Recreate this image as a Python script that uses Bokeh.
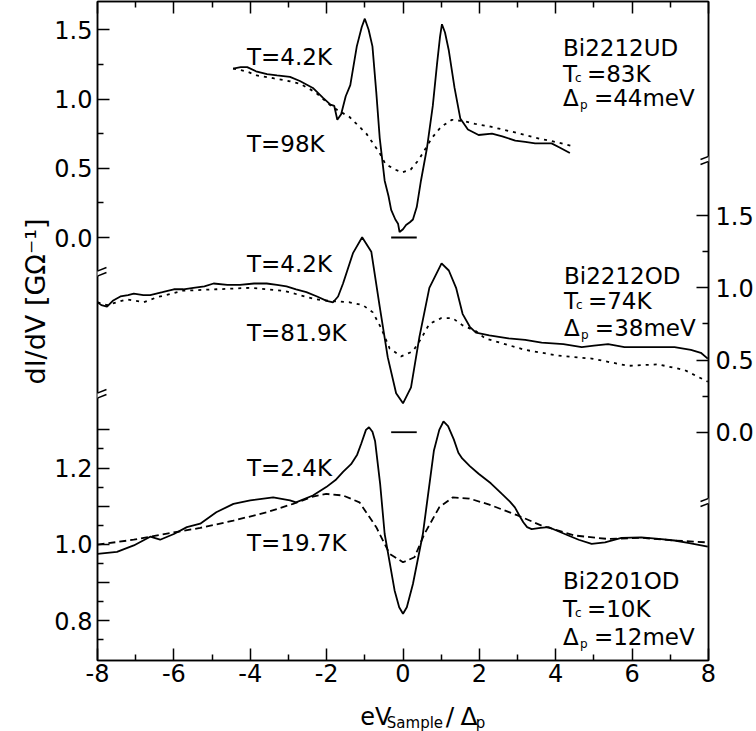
import math
from bokeh.plotting import figure
from bokeh.layouts import column
from bokeh.models import Range1d, LinearAxis, FixedTicker, Label, Arrow, Title
from bokeh.core.properties import value
from bokeh.embed import file_html
from bokeh.resources import INLINE

FONT = "DejaVu Sans"

# ---------------- data ----------------
# Panel value ranges (top panel = default range)
TOP_RANGE = (-3.054, 1.704)
MID_RANGE = (-1.581, 2.983)
BOT_RANGE = (0.6954, 2.423)

# Bi2212UD  T=4.2K (solid)
ud_sc_x = [-4.45, -4.25, -4.08, -3.85, -3.56, -3.3, -2.96, -2.7, -2.36, -2.1, -1.9, -1.8,
           -1.72, -1.62, -1.5, -1.38, -1.21, -1.08, -1.0, -0.9, -0.8, -0.7, -0.61, -0.48,
           -0.38, -0.31, -0.2, -0.13, -0.09, 0.0, 0.08, 0.18, 0.26, 0.36, 0.47, 0.63, 0.78,
           0.89, 0.97, 1.02, 1.1, 1.2, 1.35, 1.5, 1.7, 1.98, 2.33, 2.6, 2.94, 3.2, 3.46,
           3.89, 4.1, 4.37]
ud_sc_y = [1.22, 1.23, 1.23, 1.20, 1.18, 1.17, 1.16, 1.13, 1.08, 1.01, 0.96, 0.95,
           0.85, 0.89, 1.02, 1.10, 1.38, 1.52, 1.58, 1.50, 1.38, 1.05, 0.72, 0.41,
           0.30, 0.20, 0.13, 0.10, 0.04, 0.06, 0.09, 0.11, 0.13, 0.22, 0.41, 0.65, 0.95,
           1.25, 1.45, 1.54, 1.48, 1.35, 1.08, 0.86, 0.78, 0.74, 0.75, 0.73, 0.70, 0.69, 0.68,
           0.68, 0.65, 0.61]
# Bi2212UD  T=98K (dotted)
ud_nc_x = [-4.45, -4.1, -3.83, -3.4, -3.0, -2.7, -2.3, -1.84, -1.4, -0.96, -0.61, -0.46,
           -0.2, -0.02, 0.2, 0.41, 0.76, 1.0, 1.28, 1.6, 1.89, 2.3, 2.76, 3.2, 3.63, 4.0, 4.42]
ud_nc_y = [1.22, 1.20, 1.17, 1.15, 1.13, 1.11, 1.05, 0.94, 0.87, 0.75, 0.61, 0.53,
           0.49, 0.47, 0.49, 0.56, 0.72, 0.80, 0.85, 0.84, 0.82, 0.80, 0.77, 0.74, 0.71, 0.69, 0.66]

# Bi2212OD  T=4.2K (solid)
od_sc_x = [-8.0, -7.9, -7.75, -7.6, -7.4, -7.2, -7.05, -6.8, -6.62, -6.3, -6.0, -5.75, -5.49,
           -5.2, -4.96, -4.6, -4.27, -3.9, -3.57, -3.3, -3.05, -2.8, -2.53, -2.25, -2.0, -1.83,
           -1.7, -1.57, -1.31, -1.07, -0.83, -0.61, -0.40, -0.18, 0.0, 0.21, 0.43, 0.69, 1.01,
           1.2, 1.39, 1.56, 1.75, 1.91, 2.26, 2.76, 3.2, 3.63, 4.2, 4.68, 5.0, 5.37, 5.8, 6.24,
           6.7, 7.11, 7.54, 7.8, 7.98]
od_sc_y = [0.90, 0.88, 0.87, 0.91, 0.94, 0.95, 0.96, 0.95, 0.95, 0.97, 0.99, 0.99, 1.00,
           1.01, 1.03, 1.02, 1.02, 1.03, 1.03, 1.02, 1.01, 0.99, 0.97, 0.94, 0.91, 0.90,
           0.94, 1.03, 1.24, 1.35, 1.25, 0.87, 0.52, 0.27, 0.20, 0.31, 0.66, 1.00, 1.17,
           1.12, 1.00, 0.82, 0.73, 0.69, 0.67, 0.65, 0.64, 0.62, 0.61, 0.59, 0.60, 0.61, 0.59, 0.59,
           0.59, 0.59, 0.57, 0.55, 0.51]
# Bi2212OD  T=81.9K (dotted)
od_nc_x = [-8.0, -7.75, -7.23, -6.79, -6.44, -5.75, -4.88, -4.0, -3.14, -2.27, -1.92, -1.4,
           -1.05, -0.79, -0.57, -0.35, -0.05, 0.26, 0.48, 0.69, 1.0, 1.3, 1.56, 1.91, 2.15,
           3.2, 4.07, 4.94, 5.9, 6.68, 7.38, 7.98]
od_nc_y = [0.90, 0.88, 0.92, 0.90, 0.935, 0.98, 0.99, 1.00, 0.98, 0.92, 0.91, 0.90,
           0.88, 0.83, 0.72, 0.58, 0.525, 0.56, 0.65, 0.75, 0.79, 0.79, 0.74, 0.70, 0.65,
           0.57, 0.53, 0.51, 0.46, 0.47, 0.43, 0.35]

# Bi2201OD  T=2.4K (solid)
b1_sc_x = [-8.0, -7.49, -7.05, -6.62, -6.36, -6.0, -5.66, -5.31, -4.89, -4.44, -4.0, -3.4,
           -2.96, -2.8, -2.36, -2.01, -1.75, -1.57, -1.36, -1.2, -1.09, -0.97, -0.89, -0.8,
           -0.73, -0.6, -0.48, -0.22, -0.1, 0.0, 0.1, 0.26, 0.52, 0.81, 0.95, 1.06, 1.18,
           1.33, 1.45, 1.55, 1.75, 1.98, 2.3, 2.59, 2.8, 2.93, 3.05, 3.15, 3.25, 3.37, 3.6,
           3.81, 4.05, 4.33, 4.6, 4.94, 5.29, 5.72, 6.24, 6.7, 7.11, 7.5, 7.98]
b1_sc_y = [0.975, 0.98, 0.997, 1.02, 1.012, 1.027, 1.045, 1.054, 1.084, 1.106, 1.115, 1.123,
           1.115, 1.11, 1.128, 1.15, 1.17, 1.19, 1.21, 1.235, 1.265, 1.30, 1.307, 1.295,
           1.27, 1.16, 1.027, 0.879, 0.835, 0.818, 0.835, 0.896, 1.027, 1.246, 1.30, 1.322, 1.31,
           1.275, 1.24, 1.225, 1.205, 1.185, 1.16, 1.132, 1.112, 1.097, 1.075, 1.058, 1.045, 1.04, 1.043,
           1.045, 1.035, 1.023, 1.012, 1.001, 1.005, 1.017, 1.018, 1.014, 1.01, 1.003, 0.994]
# Bi2201OD  T=19.7K (dashed)
b1_nc_x = [-8.0, -7.05, -6.18, -5.31, -4.44, -3.57, -2.88, -2.36, -2.01, -1.57, -1.14,
           -0.70, -0.35, 0.0, 0.30, 0.56, 0.95, 1.30, 1.74, 2.26, 3.02, 3.63, 4.5, 5.37,
           6.24, 7.11, 7.98]
b1_nc_y = [0.999, 1.012, 1.028, 1.043, 1.062, 1.084, 1.106, 1.125, 1.132, 1.128, 1.11,
           1.045, 0.975, 0.953, 0.966, 1.027, 1.097, 1.123, 1.12, 1.104, 1.075, 1.049, 1.023,
           1.014, 1.017, 1.01, 1.005]

# zero-level markers
zero_mark_x = [-0.31, 0.36]

x_major = [-8, -6, -4, -2, 0, 2, 4, 6, 8]
x_minor = [-7, -5, -3, -1, 1, 3, 5, 7]
top_major = [0.0, 0.5, 1.0, 1.5]
top_minor = [0.25, 0.75, 1.25]
mid_major = [0.0, 0.5, 1.0, 1.5]
mid_minor = [0.25, 0.75, 1.25]
bot_major = [0.8, 0.9, 1.0, 1.1, 1.2, 1.3]
bot_labeled = [0.8, 1.0, 1.2]
bot_minor = [0.75, 0.85, 0.95, 1.05, 1.15, 1.25]

# ---------------- layout helpers ----------------
W, H = 756, 731
STRIP = 30                      # strip below the main figure holding the x title
MAIN_H = H - STRIP
FX0, FX1, FY0, FY1 = 97, 710, 1, 660


def dx(px):
    return -8 + (px - FX0) * 16.0 / (FX1 - FX0)


def dy(py):
    return TOP_RANGE[1] - (py - FY0) * (TOP_RANGE[1] - TOP_RANGE[0]) / (FY1 - FY0)


def bot_to_top(v):
    return TOP_RANGE[0] + (v - BOT_RANGE[0]) / (BOT_RANGE[1] - BOT_RANGE[0]) * (TOP_RANGE[1] - TOP_RANGE[0])


p = figure(width=W, height=MAIN_H, x_range=Range1d(-8, 8), y_range=Range1d(*TOP_RANGE),
           output_backend="svg", toolbar_location=None,
           min_border_left=FX0, min_border_right=W - FX1, min_border_top=FY0,
           min_border_bottom=MAIN_H - FY1)
p.extra_y_ranges = {"mid": Range1d(*MID_RANGE), "bot": Range1d(*BOT_RANGE)}
p.xgrid.visible = False
p.ygrid.visible = False
p.outline_line_color = "black"
p.outline_line_width = 1.5
p.background_fill_color = "white"
p.border_fill_color = "white"

TICK_FS = "24px"


def style_axis(ax, size=TICK_FS):
    ax.axis_line_width = 1.5
    ax.axis_line_color = "black"
    ax.major_tick_in = 12
    ax.major_tick_out = 0
    ax.minor_tick_in = 6
    ax.minor_tick_out = 0
    ax.major_tick_line_width = 1.5
    ax.minor_tick_line_width = 1.5
    ax.major_tick_line_color = "black"
    ax.minor_tick_line_color = "black"
    ax.major_label_text_font = FONT
    ax.major_label_text_font_size = size
    ax.major_label_text_color = "black"


# bottom x axis
xa = p.xaxis[0]
xa.ticker = FixedTicker(ticks=x_major, minor_ticks=x_minor)
xa.major_label_overrides = {t: str(t) for t in x_major}
style_axis(xa)
xa.major_label_standoff = 3

# top axis (ticks only)
ta = LinearAxis(ticker=FixedTicker(ticks=x_major, minor_ticks=x_minor))
style_axis(ta, "0px")
ta.major_label_standoff = 0
ta.major_label_overrides = {t: "" for t in x_major}
p.add_layout(ta, "above")

# left axis: top panel + bottom panel
ya = p.yaxis[0]
left_ticks = list(top_major) + [bot_to_top(v) for v in bot_major]
left_minor = list(top_minor) + [bot_to_top(v) for v in bot_minor]
ya.ticker = FixedTicker(ticks=left_ticks, minor_ticks=left_minor)
ov = {t: f"{t:.1f}" for t in top_major}
for v in bot_major:
    ov[bot_to_top(v)] = f"{v:.1f}" if v in bot_labeled else ""
ya.major_label_overrides = ov
style_axis(ya)
ya.major_label_standoff = 5

# right axis: middle panel
ra = LinearAxis(y_range_name="mid", ticker=FixedTicker(ticks=mid_major, minor_ticks=mid_minor))
ra.major_label_overrides = {t: f"{t:.1f}" for t in mid_major}
style_axis(ra)
ra.major_label_standoff = 7
p.add_layout(ra, "right")

# y axis title (left border); align "left" = starts at the frame bottom, offset moves it up
yt = Title(text="dI/dV [G\u03a9\u207b\u00b9]", align="left", offset=276, standoff=2,
           text_font=FONT, text_font_size="27px", text_font_style="normal", text_color="black")
p.add_layout(yt, "left")

# ---------------- curves ----------------
LW = 1.8
p.line(ud_nc_x, ud_nc_y, line_color="black", line_width=LW, line_dash="3 5")
p.line(ud_sc_x, ud_sc_y, line_color="black", line_width=LW)
p.line(od_nc_x, od_nc_y, y_range_name="mid", line_color="black", line_width=LW, line_dash="3 5")
p.line(od_sc_x, od_sc_y, y_range_name="mid", line_color="black", line_width=LW)
p.line(b1_nc_x, b1_nc_y, y_range_name="bot", line_color="black", line_width=LW, line_dash="7 4")
p.line(b1_sc_x, b1_sc_y, y_range_name="bot", line_color="black", line_width=LW)

p.segment(x0=[zero_mark_x[0]], y0=[0.0], x1=[zero_mark_x[1]], y1=[0.0],
          line_color="black", line_width=1.8)
p.segment(x0=[zero_mark_x[0]], y0=[0.0], x1=[zero_mark_x[1]], y1=[0.0],
          y_range_name="mid", line_color="black", line_width=1.8)

# ---------------- axis breaks ----------------
def axis_break(px, py):
    sx, sy = 9, 3.5
    p.add_layout(Arrow(x_start=dx(px - sx), y_start=dy(py + sy), x_end=dx(px + sx), y_end=dy(py - sy),
                       end=None, line_color="white", line_width=5))
    for off in (-2.5, 2.5):
        p.add_layout(Arrow(x_start=dx(px - sx), y_start=dy(py + sy + off), x_end=dx(px + sx),
                           y_end=dy(py - sy + off), end=None, line_color="black", line_width=1.5))


axis_break(FX0, 273)
axis_break(FX0, 395)
axis_break(FX1 + 1, 158)
axis_break(FX1 + 1, 500)

# ---------------- texts inside the frame ----------------
def text(px, py, s, size="22px", align="left", baseline="alphabetic"):
    p.add_layout(Label(x=dx(px), y=dy(py), text=s, text_font=FONT, text_font_size=size,
                       text_color="black", text_align=align, text_baseline=baseline))


CL = "23px"
text(247, 56, "T=4.2K", CL)
text(247, 143, "T=98K", CL)
text(247, 263, "T=4.2K", CL)
text(247, 332, "T=81.9K", CL)
text(247, 467, "T=2.4K", CL)
text(247, 542, "T=19.7K", CL)

BL = "23px"
SB = "12px"


def block(x0, ys, name, tc, gap):
    text(x0, ys[0], name, BL)
    text(x0, ys[1], "T", BL)
    text(x0 + 12, ys[1] + 4, "c", SB)
    text(x0 + 24, ys[1], "=" + tc, BL)
    text(x0, ys[2], "\u0394", BL)
    text(x0 + 17, ys[2] + 7, "p", SB)
    text(x0 + 31, ys[2], "=" + gap, BL)


block(564, (47, 73, 97), "Bi2212UD", "83K", "44meV")
block(565, (275, 300, 327), "Bi2212OD", "74K", "38meV")
block(564, (580, 608, 636), "Bi2201OD", "10K", "12meV")

# ---------------- x title strip ----------------
q = figure(width=W, height=STRIP, x_range=Range1d(0, W), y_range=Range1d(STRIP, 0),
           output_backend="svg", toolbar_location=None, min_border=0,
           x_axis_type=None, y_axis_type=None)
q.grid.visible = False
q.outline_line_color = None
q.background_fill_color = "white"
q.border_fill_color = "white"
xt_text = ["eV", "Sample", "/", "\u0394", "p"]
xt_x = [325, 358, 431, 449, 468]
xt_y = [716 - MAIN_H, 722 - MAIN_H, 716 - MAIN_H, 716 - MAIN_H, 722 - MAIN_H]
xt_fs = ["24px", "15px", "25px", "25px", "15px"]
for s, xx, yy, fs in zip(xt_text, xt_x, xt_y, xt_fs):
    q.text(x=[xx], y=[yy], text=[s], text_font=value(FONT), text_font_size=value(fs),
           text_baseline="alphabetic", text_align="left", text_color="black")

layout = column(p, q, spacing=0)
open("out.html", "w").write(file_html(layout, INLINE))
